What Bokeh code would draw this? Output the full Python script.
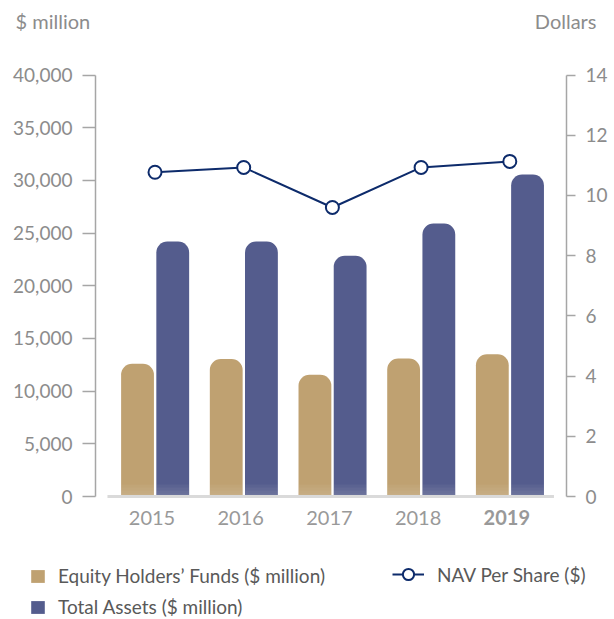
from bokeh.plotting import figure
from bokeh.models import (ColumnDataSource, LinearAxis, Range1d, FixedTicker,
                          NumeralTickFormatter, Legend, LegendItem, Label)
from bokeh.transform import dodge
from bokeh.core.properties import value
from bokeh.embed import file_html
from bokeh.resources import INLINE

# ---- data ----
years = ["2015", "2016", "2017", "2018", "2019"]
equity = [12600, 13050, 11550, 13100, 13500]
total_assets = [24200, 24200, 22850, 25900, 30550]
nav = [10.77, 10.93, 9.60, 10.93, 11.13]
left_ticks = [0, 5000, 10000, 15000, 20000, 25000, 30000, 35000, 40000]
right_ticks = [0, 2, 4, 6, 8, 10, 12, 14]
year_styles = ["normal", "normal", "normal", "normal", "bold"]
left_title = "$ million"
right_title = "Dollars"
legend_labels = ["Equity Holders\u2019 Funds ($ million)", "Total Assets ($ million)",
                 "NAV Per Share ($)"]

# ---- styles / layout (pixel geometry) ----
TAN = "#BFA171"
BLUE = "#545C8D"
NAVY = "#0D2B6B"
AXIS = "#a6a6a6"
TICKTXT = "#8c8c8c"
FONT = "Lato"

W, H = 614, 619
AX_L_PX, AX_R_PX = 95, 566
zero_y, top_y = 496.0, 74.5
ppu = (zero_y - top_y) / 40000.0
y_start = -(H - zero_y) / ppu
y_end = 40000 + top_y / ppu
ppx = 88.7
cx0 = 154.5
x_start = -cx0 / ppx
x_end = x_start + W / ppx
ratio = 14 / 40000.0

xs = list(range(len(years)))
src = ColumnDataSource(dict(x=xs, years=years, equity=equity, total=total_assets,
                            nav=nav, style=year_styles))

p = figure(width=W, height=H, x_range=Range1d(x_start, x_end),
           y_range=Range1d(y_start, y_end), x_axis_location=None, y_axis_location=None,
           toolbar_location=None, output_backend="svg", min_border=0,
           outline_line_color=None)
p.extra_y_ranges = {"nav": Range1d(y_start * ratio, y_end * ratio)}
p.xgrid.grid_line_color = None
p.ygrid.grid_line_color = None

def style_axis(ax, tick_out):
    ax.major_tick_out = tick_out
    ax.major_tick_in = 0
    ax.minor_tick_out = 0
    ax.minor_tick_in = 0
    ax.axis_line_color = AXIS
    ax.axis_line_width = 1.5
    ax.major_tick_line_color = AXIS
    ax.major_tick_line_width = 1.5
    ax.major_label_text_font = FONT
    ax.major_label_text_font_size = "19px"
    ax.major_label_text_color = TICKTXT
    ax.major_label_standoff = 10

left = LinearAxis(bounds=(0, 40000), ticker=FixedTicker(ticks=left_ticks),
                  formatter=NumeralTickFormatter(format="0,0"),
                  fixed_location=x_start + AX_L_PX / ppx)
style_axis(left, 13)
p.add_layout(left, "left")

right = LinearAxis(y_range_name="nav", bounds=(0, 14), ticker=FixedTicker(ticks=right_ticks),
                   fixed_location=x_start + AX_R_PX / ppx)
style_axis(right, 9)
p.add_layout(right, "right")

BAR_W = 0.37
EQ_X = dodge("x", -0.197, range=p.x_range)
TOT_X = dodge("x", 0.2, range=p.x_range)
r_eq = p.vbar(x=EQ_X, top="equity", width=BAR_W, bottom=0,
              source=src, fill_color=TAN, line_color=None, border_radius=(11, 11, 0, 0))
r_tot = p.vbar(x=TOT_X, top="total", width=BAR_W, bottom=0,
               source=src, fill_color=BLUE, line_color=None, border_radius=(11, 11, 0, 0))

# soft light fade at the foot of each bar
for k in (3, 6, 9, 12):
    for bx in (EQ_X, TOT_X):
        p.vbar(x=bx, top=k / ppu, bottom=0, width=BAR_W, source=src,
               fill_color="white", fill_alpha=0.045, line_color=None)

# baseline (on top of bar feet)
p.segment(x0=[xs[0] - 0.536], x1=[xs[-1] + 0.498], y0=[0], y1=[0],
          line_color="#dadada", line_width=3)

r_line = p.line(x="x", y="nav", y_range_name="nav", source=src, line_color=NAVY, line_width=2)
r_pts = p.scatter(x="x", y="nav", y_range_name="nav", source=src, size=13,
                  fill_color="white", line_color=NAVY, line_width=2)

label_y = -21 / ppu
p.text(x="x", y=label_y, text="years", source=src, text_font=value(FONT),
       text_font_size="20px", text_font_style="style", text_color="#999999",
       text_align="center", text_baseline="middle", x_offset=-3)

# titles (screen units: from frame bottom-left, y up)
p.add_layout(Label(x=15, y=H - 20, x_units="screen", y_units="screen", text=left_title,
                   text_font=FONT, text_font_size="20px", text_color=TICKTXT,
                   text_align="left", text_baseline="middle"))
p.add_layout(Label(x=596, y=H - 20, x_units="screen", y_units="screen", text=right_title,
                   text_font=FONT, text_font_size="20px", text_color=TICKTXT,
                   text_align="right", text_baseline="middle"))

leg_common = dict(orientation="vertical", padding=0, margin=0,
                  background_fill_alpha=0, border_line_color=None,
                  label_text_font=FONT, label_text_font_size="19px",
                  label_text_color="#595959")
leg1 = Legend(items=[LegendItem(label=legend_labels[0], renderers=[r_eq]),
                     LegendItem(label=legend_labels[1], renderers=[r_tot])],
              location=(29, 1), glyph_width=17, glyph_height=16, label_height=16,
              spacing=8, label_standoff=12, **leg_common)
leg2 = Legend(items=[LegendItem(label=legend_labels[2], renderers=[r_line, r_pts])],
              location=(392, 31), glyph_width=32, glyph_height=28, label_height=28,
              spacing=0, label_standoff=13, **leg_common)
p.add_layout(leg1)
p.add_layout(leg2)

open("out.html", "w").write(file_html(p, INLINE))
